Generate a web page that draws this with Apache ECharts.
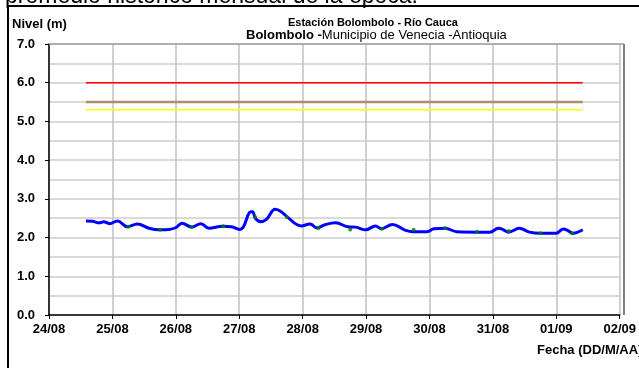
<!DOCTYPE html>
<html>
<head>
<meta charset="utf-8">
<script src="https://cdn.jsdelivr.net/npm/echarts@6/dist/echarts.min.js"></script>
<style>
html,body{margin:0;padding:0;background:#fff;}
#c{width:639px;height:368px;}
</style>
</head>
<body>
<div id="c"></div>
<script>
// Day tick labels (x axis, one per day from 24/08 00:00)
var dayLabels = ['24/08','25/08','26/08','27/08','28/08','29/08','30/08','31/08','01/09','02/09'];
// Sensor readings: hours since 24/08 00:00 and level (m)
var sensorHours = [14,16.5,19,20.7,22.9,25.9,29.7,33.4,37.9,41.7,45.4,48.1,50.3,54.1,57.5,60.5,65.7,69.1,72.1,73.6,75.9,77,78.1,80,82.3,85.6,87.9,90.5,95.4,98.8,101.4,104.4,108.5,113.1,116.1,119.8,123.6,125.8,130,134.5,137.8,143.1,145.7,149.9,154.4,161.9,166.8,170.1,172,173.9,178,181.8,185.9,191.9,194.6,196.4,198.3,202];
var sensorLevels = [2.43,2.42,2.38,2.41,2.36,2.43,2.28,2.35,2.24,2.20,2.21,2.26,2.37,2.27,2.36,2.24,2.29,2.28,2.21,2.28,2.65,2.67,2.50,2.41,2.47,2.73,2.67,2.51,2.30,2.35,2.25,2.33,2.38,2.28,2.27,2.20,2.30,2.23,2.34,2.20,2.15,2.15,2.23,2.24,2.15,2.14,2.14,2.24,2.20,2.14,2.24,2.14,2.11,2.11,2.22,2.18,2.11,2.20];
// Manual readings (06:00 and 18:00)
var manualHours = [30,42,54,66,78,90,102,114,126,138,150,162,174,186,198];
var manualLevels = [2.28,2.20,2.27,2.29,2.53,2.53,2.25,2.21,2.23,2.20,2.24,2.15,2.17,2.11,2.11];
// Reference levels (m)
var levelRed = 6.0;
var levelBrown = 5.5;
var levelYellow = 5.3;
var yTicks = [0,1,2,3,4,5,6,7];

var chart = echarts.init(document.getElementById('c'));
var tStart = sensorHours[0], tEnd = sensorHours[sensorHours.length-1];
function hline(v){ return [[tStart, v],[tEnd, v]]; }
var FONT = 'Liberation Sans, Arial, sans-serif';

chart.setOption({
  animation: false,
  backgroundColor: '#fff',
  grid: {left: 49, right: 15, top: 44, bottom: 53, show: false},
  xAxis: {
    type: 'value', min: 0, max: 216, interval: 24,
    axisLine: {show: true, lineStyle: {color: '#000', width: 1.5}},
    axisTick: {show: true, length: 4, lineStyle: {color: '#000', width: 1}},
    axisLabel: {
      margin: 8, color: '#000', fontFamily: FONT, fontWeight: 'bold', fontSize: 13,
      formatter: function(v){ return dayLabels[Math.round(v/24)]; }
    },
    splitLine: {show: true, lineStyle: {color: '#c0c0c0', width: 1.5}}
  },
  yAxis: {
    type: 'value', min: yTicks[0], max: yTicks[yTicks.length-1], interval: 1,
    axisLine: {show: true, lineStyle: {color: '#000', width: 1.5}},
    axisTick: {show: true, length: 4, lineStyle: {color: '#000', width: 1}},
    axisLabel: {
      margin: 14, color: '#000', fontFamily: FONT, fontWeight: 'bold', fontSize: 13,
      formatter: function(v){ return v.toFixed(1); }
    },
    splitLine: {show: true, lineStyle: {color: '#d9d9d9', width: 2}},
    minorTick: {show: false, splitNumber: 2},
    minorSplitLine: {show: true, lineStyle: {color: '#d9d9d9', width: 2}}
  },
  graphic: [
    {type: 'rect', shape: {x: 8, y: 6, width: 700, height: 400}, style: {fill: 'none', stroke: '#000', lineWidth: 2}, z: 0},
    {type: 'line', shape: {x1: 49, y1: 44, x2: 624, y2: 44}, style: {stroke: '#a0a0a0', lineWidth: 1.5}, z: 1},
    {type: 'line', shape: {x1: 624, y1: 44, x2: 624, y2: 315}, style: {stroke: '#808080', lineWidth: 2}, z: 1},
    {type: 'text', left: 5, top: -15, style: {text: 'promedio histórico mensual de la época.', font: '23px ' + FONT, fill: '#000'}},
    {type: 'text', left: 12, top: 18, style: {text: 'Nivel (m)', font: 'bold 13px ' + FONT, fill: '#000'}},
    {type: 'text', left: 288, top: 17, style: {text: 'Estación Bolombolo - Río Cauca', font: 'bold 11px ' + FONT, fill: '#000'}},
    {type: 'text', left: 246, top: 29, style: {
      text: '{b|Bolombolo -}{n|Municipio de Venecia -Antioquia}',
      rich: {b: {font: 'bold 13px ' + FONT, fill: '#000'}, n: {font: '13px ' + FONT, fill: '#000'}}
    }},
    {type: 'text', left: 537, top: 344, style: {text: 'Fecha (DD/M/AA)', font: 'bold 13px ' + FONT, fill: '#000'}}
  ],
  series: [
    {type: 'line', data: hline(levelRed), symbol: 'none', lineStyle: {color: '#ff0000', width: 1.5}, z: 3},
    {type: 'line', data: hline(levelBrown), symbol: 'none', lineStyle: {color: '#b08c6e', width: 2.5}, z: 3},
    {type: 'line', data: hline(levelYellow), symbol: 'none', lineStyle: {color: '#ffff00', width: 1.5}, z: 3},
    {type: 'line', data: sensorHours.map(function(h,i){return [h, sensorLevels[i]];}), symbol: 'none', smooth: 0.4,
     lineStyle: {color: '#0000ff', width: 3}, z: 4},
    {type: 'scatter', data: manualHours.map(function(h,i){return [h, manualLevels[i]];}), symbol: 'circle', symbolSize: 4,
     itemStyle: {color: '#008000'}, z: 5}
  ]
});
</script>
</body>
</html>
